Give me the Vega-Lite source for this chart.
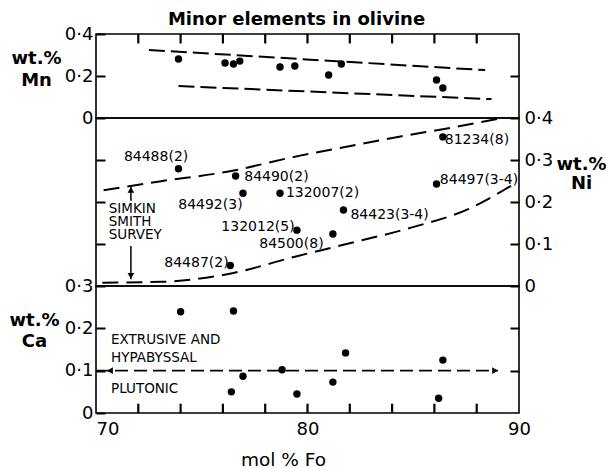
{
  "$schema": "https://vega.github.io/schema/vega-lite/v6.json",
  "background": "white",
  "padding": {"left": 8, "top": 9, "right": 0, "bottom": 0},
  "spacing": 0,
  "bounds": "flush",
  "config": {
    "font": "DejaVu Sans",
    "view": {"stroke": "black", "strokeWidth": 1.6},
    "axis": {
      "domain": false, "grid": false, "ticks": true, "tickOpacity": 1,
      "tickColor": "black", "tickWidth": 2, "tickSize": -9,
      "labelColor": "black", "labelFontSize": 18, "labelFont": "DejaVu Sans",
      "titleColor": "black", "titleFont": "DejaVu Sans", "titleFontSize": 18, "titleFontWeight": "bold"
    }
  },
  "datasets": {
    "mnticks": [
      {"fo": 72, "lo": 0.4, "hi": 0.355}, {"fo": 74, "lo": 0.4, "hi": 0.355}, {"fo": 76, "lo": 0.4, "hi": 0.355},
      {"fo": 78, "lo": 0.4, "hi": 0.355}, {"fo": 80, "lo": 0.4, "hi": 0.355}, {"fo": 82, "lo": 0.4, "hi": 0.355},
      {"fo": 84, "lo": 0.4, "hi": 0.355}, {"fo": 86, "lo": 0.4, "hi": 0.355}, {"fo": 88, "lo": 0.4, "hi": 0.355}
    ],
    "cati": [
      {"fo": 72, "lo": 0, "hi": 0.022}, {"fo": 74, "lo": 0, "hi": 0.022}, {"fo": 76, "lo": 0, "hi": 0.022},
      {"fo": 78, "lo": 0, "hi": 0.022}, {"fo": 80, "lo": 0, "hi": 0.022}, {"fo": 82, "lo": 0, "hi": 0.022},
      {"fo": 84, "lo": 0, "hi": 0.022}, {"fo": 86, "lo": 0, "hi": 0.022}, {"fo": 88, "lo": 0, "hi": 0.022}
    ],
    "mn": [
      {"fo": 73.9, "mn": 0.281}, {"fo": 76.1, "mn": 0.262}, {"fo": 76.5, "mn": 0.257},
      {"fo": 76.8, "mn": 0.271}, {"fo": 78.7, "mn": 0.243}, {"fo": 79.4, "mn": 0.248},
      {"fo": 81.0, "mn": 0.205}, {"fo": 81.6, "mn": 0.257}, {"fo": 86.1, "mn": 0.181},
      {"fo": 86.4, "mn": 0.143}
    ],
    "mnlines": [
      {"line": "upper", "fo": 72.5, "mn": 0.324}, {"line": "upper", "fo": 88.4, "mn": 0.228},
      {"line": "lower", "fo": 73.9, "mn": 0.152}, {"line": "lower", "fo": 88.7, "mn": 0.090}
    ],
    "ni": [
      {"label": "84488(2)", "fo": 73.9, "ni": 0.279},
      {"label": "84490(2)", "fo": 76.6, "ni": 0.262},
      {"label": "84492(3)", "fo": 76.95, "ni": 0.221},
      {"label": "132007(2)", "fo": 78.7, "ni": 0.221},
      {"label": "132012(5)", "fo": 79.5, "ni": 0.133},
      {"label": "84500(8)", "fo": 81.2, "ni": 0.124},
      {"label": "84487(2)", "fo": 76.35, "ni": 0.049},
      {"label": "84423(3-4)", "fo": 81.7, "ni": 0.181},
      {"label": "84497(3-4)", "fo": 86.1, "ni": 0.243},
      {"label": "81234(8)", "fo": 86.4, "ni": 0.355}
    ],
    "nilab": [
      {"text": "84488(2)", "fo": 72.84, "ni": 0.307},
      {"text": "84490(2)", "fo": 78.53, "ni": 0.260},
      {"text": "84492(3)", "fo": 75.41, "ni": 0.193},
      {"text": "132007(2)", "fo": 80.71, "ni": 0.221},
      {"text": "132012(5)", "fo": 77.66, "ni": 0.141},
      {"text": "84500(8)", "fo": 79.24, "ni": 0.099},
      {"text": "84487(2)", "fo": 74.75, "ni": 0.055},
      {"text": "84423(3-4)", "fo": 83.88, "ni": 0.168},
      {"text": "84497(3-4)", "fo": 88.11, "ni": 0.252},
      {"text": "81234(8)", "fo": 88.01, "ni": 0.348}
    ],
    "nicurves": [
      {"curve": "upper", "fo": 70.36, "ni": 0.228}, {"curve": "upper", "fo": 73.0, "ni": 0.249},
      {"curve": "upper", "fo": 76.2, "ni": 0.272}, {"curve": "upper", "fo": 79.7, "ni": 0.311},
      {"curve": "upper", "fo": 81.6, "ni": 0.329}, {"curve": "upper", "fo": 84.4, "ni": 0.356},
      {"curve": "upper", "fo": 86.8, "ni": 0.377}, {"curve": "upper", "fo": 89.3, "ni": 0.401},
      {"curve": "lower", "fo": 70.3, "ni": 0.008}, {"curve": "lower", "fo": 73.1, "ni": 0.010},
      {"curve": "lower", "fo": 76.2, "ni": 0.028}, {"curve": "lower", "fo": 79.5, "ni": 0.071},
      {"curve": "lower", "fo": 81.6, "ni": 0.097}, {"curve": "lower", "fo": 84.9, "ni": 0.139},
      {"curve": "lower", "fo": 87.6, "ni": 0.183}, {"curve": "lower", "fo": 89.8, "ni": 0.244}
    ],
    "simkin": [
      {"text": "SIMKIN|SMITH|SURVEY", "fo": 70.6, "ni": 0.1826}
    ],
    "niarrows": [
      {"fo": 71.65, "y1": 0.236, "y2": 0.203},
      {"fo": 71.65, "y1": 0.095, "y2": 0.016}
    ],
    "niheads": [
      {"dir": "up", "fo": 71.65, "ni": 0.229},
      {"dir": "down", "fo": 71.65, "ni": 0.024}
    ],
    "ca": [
      {"fo": 74.0, "ca": 0.239}, {"fo": 76.5, "ca": 0.241}, {"fo": 76.95, "ca": 0.087},
      {"fo": 76.4, "ca": 0.050}, {"fo": 78.8, "ca": 0.102}, {"fo": 79.5, "ca": 0.045},
      {"fo": 81.2, "ca": 0.073}, {"fo": 81.8, "ca": 0.142}, {"fo": 86.4, "ca": 0.125},
      {"fo": 86.2, "ca": 0.035}
    ],
    "caline": [{"fo": 70.0, "ca": 0.1}, {"fo": 89.0, "ca": 0.1}],
    "caheads": [{"dir": "left", "fo": 70.66, "ca": 0.1}, {"dir": "right", "fo": 88.87, "ca": 0.1}],
    "catext": [
      {"text": "EXTRUSIVE AND", "fo": 70.71, "ca": 0.173},
      {"text": "HYPABYSSAL", "fo": 70.71, "ca": 0.130},
      {"text": "PLUTONIC", "fo": 70.71, "ca": 0.057}
    ]
  },
  "vconcat": [
    {
      "width": 423, "height": 84,
      "resolve": {"axis": {"x": "independent", "y": "independent"}},
      "layer": [
        {
          "data": {"name": "mn"},
          "mark": {"type": "point", "filled": true, "color": "black", "size": 55, "opacity": 1},
          "encoding": {
            "x": {"field": "fo", "type": "quantitative", "scale": {"domain": [70, 90], "nice": false},
              "axis": {"orient": "top", "values": [72, 74, 76, 78, 80, 82, 84, 86, 88], "labels": false, "ticks": false,
                "title": "Minor elements in olivine", "titleX": 200, "titleY": -10, "titleAlign": "center", "titleBaseline": "alphabetic", "titleAngle": 0}},
            "y": {"field": "mn", "type": "quantitative", "scale": {"domain": [0, 0.4], "nice": false},
              "axis": {"orient": "left", "values": [0, 0.2, 0.4], "labelPadding": 12,
                "labelExpr": "datum.value === 0 ? '0' : replace(format(datum.value, '.1f'), '.', '·')",
                "title": ["wt.%", "Mn"], "titleAngle": 0, "titleAlign": "center", "titleBaseline": "alphabetic",
                "titleX": -60, "titleY": 29, "titleLineHeight": 22}}
          }
        },
        {
          "data": {"name": "mnlines"},
          "mark": {"type": "line", "color": "black", "strokeDash": [16, 6], "strokeWidth": 2},
          "encoding": {
            "x": {"field": "fo", "type": "quantitative", "axis": null},
            "y": {"field": "mn", "type": "quantitative", "axis": {"orient": "right", "values": [0.2], "labels": false, "title": null}},
            "detail": {"field": "line"}
          }
        },
        {
          "data": {"name": "mnticks"},
          "mark": {"type": "rule", "color": "black", "strokeWidth": 2.2, "opacity": 1},
          "encoding": {
            "x": {"field": "fo", "type": "quantitative", "axis": null},
            "y": {"field": "lo", "type": "quantitative", "axis": null},
            "y2": {"field": "hi"}
          }
        }
      ]
    },
    {
      "width": 423, "height": 168,
      "resolve": {"axis": {"x": "independent", "y": "independent"}},
      "layer": [
        {
          "data": {"name": "nicurves"},
          "mark": {"type": "line", "color": "black", "strokeDash": [16, 8], "strokeWidth": 2, "interpolate": "monotone"},
          "encoding": {
            "x": {"field": "fo", "type": "quantitative", "scale": {"domain": [70, 90], "nice": false}, "axis": null},
            "y": {"field": "ni", "type": "quantitative", "scale": {"domain": [0, 0.4], "nice": false},
              "axis": {"orient": "left", "values": [0.1, 0.2, 0.3], "labels": false, "title": null}},
            "detail": {"field": "curve"}
          }
        },
        {
          "data": {"name": "ni"},
          "mark": {"type": "point", "filled": true, "color": "black", "size": 55, "opacity": 1},
          "encoding": {
            "x": {"field": "fo", "type": "quantitative", "axis": null},
            "y": {"field": "ni", "type": "quantitative",
              "axis": {"orient": "right", "values": [0, 0.1, 0.2, 0.3, 0.4], "labelPadding": 14,
                "labelExpr": "datum.value === 0 ? '0' : replace(format(datum.value, '.1f'), '.', '·')",
                "title": ["wt.%", "Ni"], "titleAngle": 0, "titleAlign": "center", "titleBaseline": "alphabetic",
                "titleX": 62, "titleY": 51, "titleLineHeight": 19}}
          }
        },
        {
          "data": {"name": "nilab"},
          "mark": {"type": "text", "fontSize": 14, "color": "black", "align": "center", "baseline": "middle"},
          "encoding": {
            "x": {"field": "fo", "type": "quantitative", "axis": null},
            "y": {"field": "ni", "type": "quantitative", "axis": null},
            "text": {"field": "text"}
          }
        },
        {
          "data": {"name": "simkin"},
          "mark": {"type": "text", "fontSize": 13.5, "color": "black", "align": "left", "baseline": "middle", "lineBreak": "|", "lineHeight": 13},
          "encoding": {
            "x": {"field": "fo", "type": "quantitative", "axis": null},
            "y": {"field": "ni", "type": "quantitative", "axis": null},
            "text": {"field": "text"}
          }
        },
        {
          "data": {"name": "niarrows"},
          "mark": {"type": "rule", "color": "black", "strokeWidth": 1.5},
          "encoding": {
            "x": {"field": "fo", "type": "quantitative", "axis": null},
            "y": {"field": "y1", "type": "quantitative", "axis": null},
            "y2": {"field": "y2"}
          }
        },
        {
          "data": {"name": "niheads"},
          "mark": {"type": "point", "filled": true, "color": "black", "size": 45, "opacity": 1},
          "encoding": {
            "x": {"field": "fo", "type": "quantitative", "axis": null},
            "y": {"field": "ni", "type": "quantitative", "axis": null},
            "shape": {"field": "dir", "type": "nominal", "scale": {"domain": ["up", "down", "left", "right"], "range": ["triangle-up", "triangle-down", "triangle-left", "triangle-right"]}, "legend": null}
          }
        }
      ]
    },
    {
      "width": 423, "height": 127,
      "resolve": {"axis": {"x": "independent", "y": "independent"}},
      "layer": [
        {
          "data": {"name": "ca"},
          "mark": {"type": "point", "filled": true, "color": "black", "size": 55, "opacity": 1},
          "encoding": {
            "x": {"field": "fo", "type": "quantitative", "scale": {"domain": [70, 90], "nice": false},
              "axis": {"orient": "bottom", "values": [70, 80, 90], "ticks": false, "labelPadding": 7,
                "labelFlush": false, "labelOverlap": false, "labelBaseline": "top",
                "labelAlign": {"condition": {"test": "datum.value === 70", "value": "left"}, "value": "center"},
                "title": "mol % Fo", "titleFontWeight": "normal", "titleFontSize": 18.5, "titleX": 187, "titleY": 52, "titleAlign": "center", "titleBaseline": "alphabetic", "titleAngle": 0}},
            "y": {"field": "ca", "type": "quantitative", "scale": {"domain": [0, 0.3], "nice": false},
              "axis": {"orient": "left", "values": [0, 0.1, 0.2, 0.3], "labelPadding": 12,
                "labelExpr": "datum.value === 0 ? '0' : replace(format(datum.value, '.1f'), '.', '·')",
                "title": ["wt.%", "Ca"], "titleAngle": 0, "titleAlign": "center", "titleBaseline": "alphabetic",
                "titleX": -62, "titleY": 39, "titleLineHeight": 21}}
          }
        },
        {
          "data": {"name": "caline"},
          "mark": {"type": "line", "color": "black", "strokeDash": [13, 6], "strokeWidth": 1.8},
          "encoding": {
            "x": {"field": "fo", "type": "quantitative", "axis": null},
            "y": {"field": "ca", "type": "quantitative", "axis": {"orient": "right", "values": [0.1, 0.2], "labels": false, "title": null}}
          }
        },
        {
          "data": {"name": "caheads"},
          "mark": {"type": "point", "filled": true, "color": "black", "size": 45, "opacity": 1},
          "encoding": {
            "x": {"field": "fo", "type": "quantitative", "axis": null},
            "y": {"field": "ca", "type": "quantitative", "axis": null},
            "shape": {"field": "dir", "type": "nominal", "scale": {"domain": ["up", "down", "left", "right"], "range": ["triangle-up", "triangle-down", "triangle-left", "triangle-right"]}, "legend": null}
          }
        },
        {
          "data": {"name": "catext"},
          "mark": {"type": "text", "fontSize": 13.5, "color": "black", "align": "left", "baseline": "middle"},
          "encoding": {
            "x": {"field": "fo", "type": "quantitative", "axis": null},
            "y": {"field": "ca", "type": "quantitative", "axis": null},
            "text": {"field": "text"}
          }
        },
        {
          "data": {"name": "cati"},
          "mark": {"type": "rule", "color": "black", "strokeWidth": 2.2, "opacity": 1},
          "encoding": {
            "x": {"field": "fo", "type": "quantitative", "axis": null},
            "y": {"field": "lo", "type": "quantitative", "axis": null},
            "y2": {"field": "hi"}
          }
        }
      ]
    }
  ]
}
